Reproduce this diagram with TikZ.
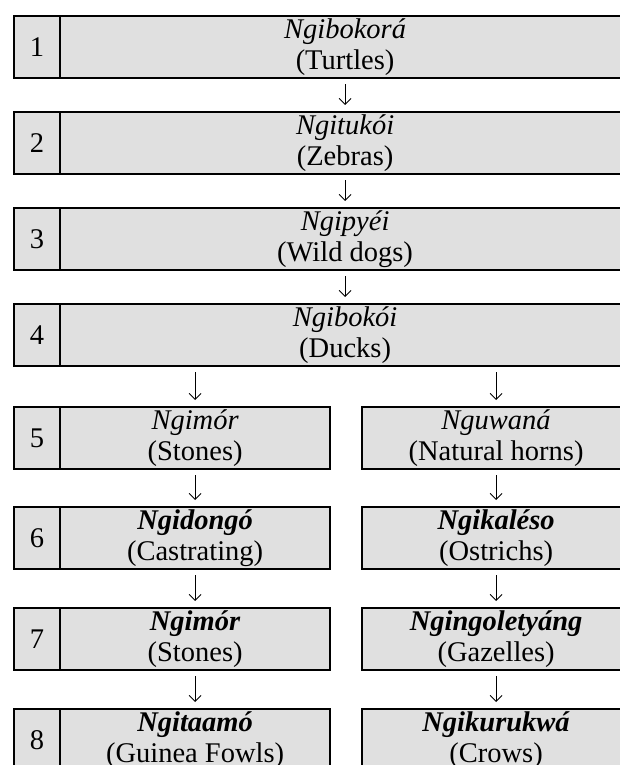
\documentclass[tikz,border=0pt]{standalone}
\usepackage{fontspec}
\setmainfont{Liberation Serif}
\usetikzlibrary{arrows.meta}
\definecolor{cellgray}{RGB}{224,224,224}

\begin{document}
\begin{tikzpicture}[x=1pt, y=-1pt,
    cell/.style={draw, fill=cellgray, line width=2.2pt, anchor=north west,
      minimum height=62pt, inner sep=0pt, align=center,
      font=\fontsize{28.5}{30.5}\selectfont},
    numcell/.style={cell, minimum width=46pt},
    flow/.style={-{Straight Barb[length=6pt,width=12pt]}, line width=0.9pt,
      shorten <=5pt, shorten >=6pt}]
    \useasboundingbox (0,0) rectangle (619,765);
    % single chain
    \node[numcell] (num1) at (13,15) {1};
    \node[cell, minimum width=570pt] (box1) at (59,15) {\textit{Ngibokorá}\\(Turtles)};
    \node[numcell] (num2) at (13,111) {2};
    \node[cell, minimum width=570pt] (box2) at (59,111) {\textit{Ngitukói}\\(Zebras)};
    \node[numcell] (num3) at (13,207) {3};
    \node[cell, minimum width=570pt] (box3) at (59,207) {\textit{Ngipyéi}\\(Wild dogs)};
    \node[numcell] (num4) at (13,303) {4};
    \node[cell, minimum width=570pt] (box4) at (59,303) {\textit{Ngibokói}\\(Ducks)};
    % two branches
    \node[numcell] (num5) at (13,406) {5};
    \node[cell, minimum width=270pt] (left5) at (59,406) {\textit{Ngimór}\\(Stones)};
    \node[cell, minimum width=268pt] (right5) at (361,406) {\textit{Nguwaná}\\(Natural horns)};
    \node[numcell] (num6) at (13,506) {6};
    \node[cell, minimum width=270pt] (left6) at (59,506) {\textbf{\textit{Ngidongó}}\\(Castrating)};
    \node[cell, minimum width=268pt] (right6) at (361,506) {\textbf{\textit{Ngikaléso}}\\(Ostrichs)};
    \node[numcell] (num7) at (13,607) {7};
    \node[cell, minimum width=270pt] (left7) at (59,607) {\textbf{\textit{Ngimór}}\\(Stones)};
    \node[cell, minimum width=268pt] (right7) at (361,607) {\textbf{\textit{Ngingoletyáng}}\\(Gazelles)};
    \node[numcell] (num8) at (13,708) {8};
    \node[cell, minimum width=270pt] (left8) at (59,708) {\textbf{\textit{Ngitaamó}}\\(Guinea Fowls)};
    \node[cell, minimum width=268pt] (right8) at (361,708) {\textbf{\textit{Ngikurukwá}}\\(Crows)};

    \draw[flow] (box1.south) -- (box2.north);
    \draw[flow] (box2.south) -- (box3.north);
    \draw[flow] (box3.south) -- (box4.north);
    \draw[flow] (box4.south -| left5.north) -- (left5.north);
    \draw[flow] (box4.south -| right5.north) -- (right5.north);
    \draw[flow] (left5.south) -- (left6.north);
    \draw[flow] (left6.south) -- (left7.north);
    \draw[flow] (left7.south) -- (left8.north);
    \draw[flow] (right5.south) -- (right6.north);
    \draw[flow] (right6.south) -- (right7.north);
    \draw[flow] (right7.south) -- (right8.north);
\end{tikzpicture}
\end{document}
